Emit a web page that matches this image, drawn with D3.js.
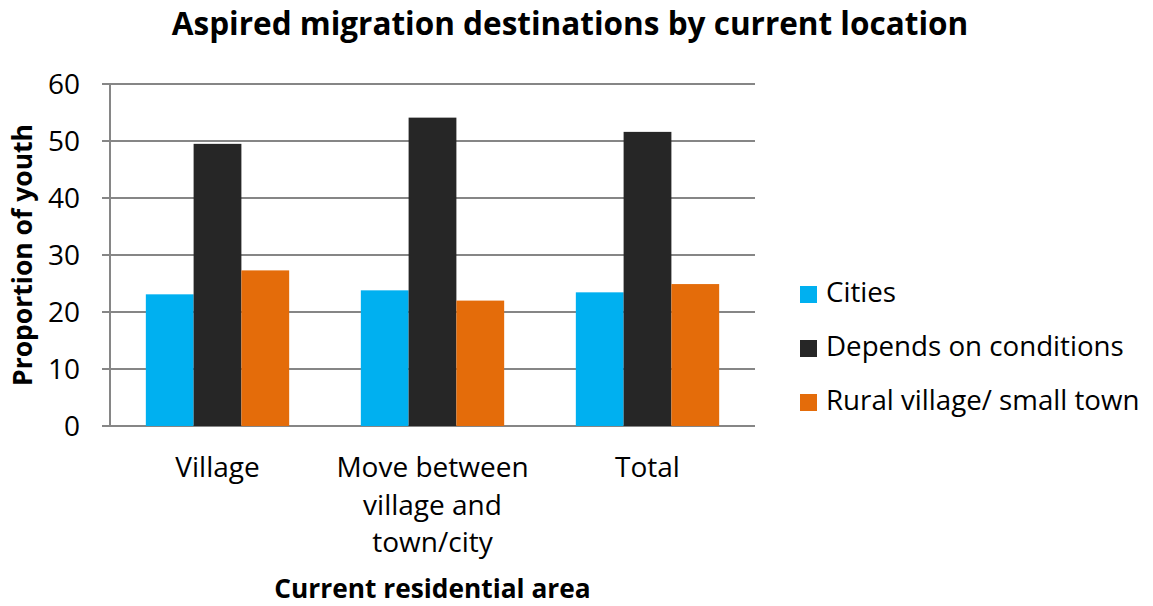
<!DOCTYPE html>
<html>
<head>
<meta charset="utf-8">
<script src="https://cdn.jsdelivr.net/npm/d3@7"></script>
<style>
  body { margin: 0; background: #fff; }
  svg { font-family: "Open Sans", Lato, sans-serif; }
</style>
</head>
<body>
<svg id="svgContainer" width="1153" height="606"></svg>
<script>
const categories = ["Village", "Move between village and town/city", "Total"];
const categoryLines = [["Village"], ["Move between", "village and", "town/city"], ["Total"]];
const seriesNames = ["Cities", "Depends on conditions", "Rural village/ small town"];
const cities = [23.1, 23.8, 23.45];
const depends = [49.5, 54.1, 51.6];
const rural = [27.3, 22.0, 24.9];
const yTicks = [0, 10, 20, 30, 40, 50, 60];
const colors = ["#00B0F0", "#262626", "#E46C0A"];

const seriesValues = [cities, depends, rural];
const svg = d3.select("#svgContainer");

const margin = { left: 110, right: 398, top: 84, bottom: 180 };
const width = 1153 - margin.left - margin.right;
const height = 606 - margin.top - margin.bottom;

const g = svg.append("g").attr("transform", `translate(${margin.left},${margin.top})`);

// gap width 150%: band = 3 bars, gap = 1.5 bars
const x0 = d3.scaleBand().domain(categories).range([0, width])
  .paddingInner(1.5 / 4.5).paddingOuter(0.75 / 4.5);
const x1 = d3.scaleBand().domain(seriesNames).range([0, x0.bandwidth()]);
const y = d3.scaleLinear().domain([0, 60]).range([height, 0]);

// gridlines
g.append("g")
  .selectAll("line")
  .data(yTicks)
  .join("line")
  .attr("x1", -8)
  .attr("x2", width)
  .attr("y1", d => y(d))
  .attr("y2", d => y(d))
  .attr("stroke", "#868686")
  .attr("stroke-width", 2);

// bars
categories.forEach((c, i) => {
  g.append("g")
    .attr("transform", `translate(${x0(c)},0)`)
    .selectAll("rect")
    .data(seriesNames.map((s, j) => ({ s, v: seriesValues[j][i], j })))
    .join("rect")
    .attr("x", d => x1(d.s))
    .attr("y", d => y(d.v))
    .attr("width", x1.bandwidth())
    .attr("height", d => height - y(d.v))
    .attr("fill", d => colors[d.j]);
});

// y axis line
g.append("line")
  .attr("x1", 0).attr("x2", 0)
  .attr("y1", 0).attr("y2", height)
  .attr("stroke", "#868686")
  .attr("stroke-width", 2);

// y tick labels
g.append("g")
  .selectAll("text")
  .data(yTicks)
  .join("text")
  .attr("x", -30)
  .attr("y", d => y(d))
  .attr("dy", "0.36em")
  .attr("text-anchor", "end")
  .attr("font-size", 28)
  .text(d => d);

// x labels
categories.forEach((c, i) => {
  const t = g.append("text")
    .attr("text-anchor", "middle")
    .attr("font-size", 28)
    .attr("x", x0(c) + x0.bandwidth() / 2)
    .attr("y", height + 51);
  categoryLines[i].forEach((ln, k) => {
    t.append("tspan")
      .attr("x", x0(c) + x0.bandwidth() / 2)
      .attr("dy", k === 0 ? 0 : 37.5)
      .text(ln);
  });
});

// title
svg.append("text")
  .attr("x", 570)
  .attr("y", 35)
  .attr("text-anchor", "middle")
  .attr("font-size", 31.5)
  .attr("font-weight", "bold")
  .text("Aspired migration destinations by current location");

// axis titles
svg.append("text")
  .attr("x", margin.left + width / 2)
  .attr("y", 598)
  .attr("text-anchor", "middle")
  .attr("font-size", 26.3)
  .attr("font-weight", "bold")
  .text("Current residential area");

svg.append("text")
  .attr("transform", `translate(32,${margin.top + height / 2}) rotate(-90)`)
  .attr("text-anchor", "middle")
  .attr("font-size", 26.5)
  .attr("font-weight", "bold")
  .text("Proportion of youth");

// legend
const legend = svg.append("g").attr("transform", "translate(800,294)");
seriesNames.forEach((s, i) => {
  const row = legend.append("g").attr("transform", `translate(0,${i * 54})`);
  row.append("rect")
    .attr("x", 0).attr("y", -8)
    .attr("width", 17).attr("height", 17)
    .attr("fill", colors[i]);
  row.append("text")
    .attr("x", 26)
    .attr("y", 0)
    .attr("dy", "0.3em")
    .attr("font-size", 27.7)
    .text(s);
});
</script>
</body>
</html>
